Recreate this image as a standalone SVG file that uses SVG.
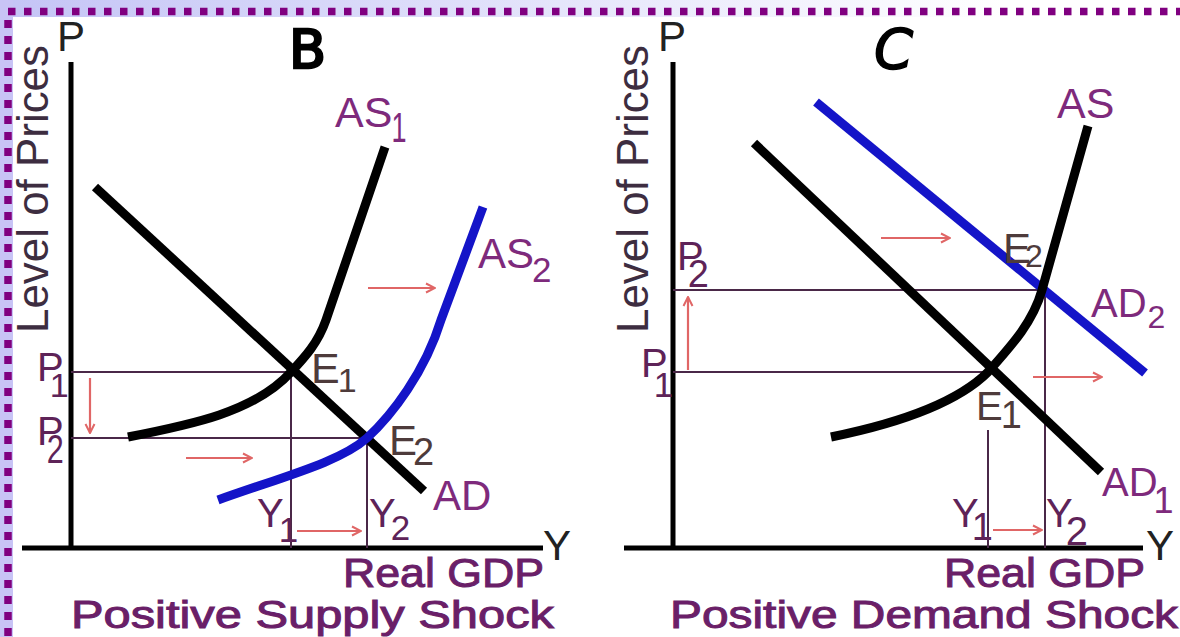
<svg xmlns="http://www.w3.org/2000/svg" width="1180" height="637" viewBox="0 0 1180 637">
<style>
.ax{stroke:#000;stroke-width:5;fill:none}
.curve{stroke:#000;stroke-width:9;fill:none;stroke-linecap:butt}
.blue{stroke:#1414c8;stroke-width:9;fill:none}
.guide{stroke:#4a2848;stroke-width:2;fill:none}
.arr{stroke:#e06666;stroke-width:2.2;fill:none;marker-end:url(#ah)}
text{font-family:"Liberation Sans",Arial,sans-serif}
.lab{fill:#7e2a7c}
.e{fill:#4e3b3b}
.p{fill:#5e2358}
.axl{fill:#222}
.vt{fill:#3d2d40;font-size:45px}
.bot{fill:#6a1f68;stroke:#6a1f68;stroke-width:1}
</style>
<defs>
<linearGradient id="band" x1="0" y1="0" x2="1" y2="0">
<stop offset="0" stop-color="#c4c4f6"/>
<stop offset="0.85" stop-color="#ffffff"/>
</linearGradient>
<marker id="ah" viewBox="0 0 12 12" refX="11" refY="6" markerWidth="12" markerHeight="12" markerUnits="userSpaceOnUse" orient="auto">
<path d="M2,1.5 L11,6 L2,10.5" fill="none" stroke="#e06666" stroke-width="2"/>
</marker>
</defs>
<rect width="1180" height="637" fill="#ffffff"/>
<g id="frame">
<rect x="0" y="0" width="1180" height="17" fill="url(#band)"/>
<rect x="0" y="0" width="13" height="637" fill="#c8c4f6"/>
<line x1="8" y1="11.5" x2="1180" y2="11.5" stroke="#800080" stroke-width="7.5" stroke-dasharray="7.5 8.5"/>
<line x1="8" y1="20" x2="8" y2="637" stroke="#800080" stroke-width="7.5" stroke-dasharray="8 8"/>
</g>

<g id="chartB">
<g id="B-axes">
<line class="ax" x1="71" y1="62" x2="71" y2="548"/>
<line class="ax" x1="22" y1="548" x2="543" y2="548"/>
</g>
<g id="B-guides">
<line class="guide" x1="71" y1="372" x2="291" y2="372"/>
<line class="guide" x1="291" y1="372" x2="291" y2="548"/>
<line class="guide" x1="71" y1="438" x2="367" y2="438"/>
<line class="guide" x1="367" y1="438" x2="367" y2="548"/>
</g>
<g id="B-AD"><line class="curve" x1="95" y1="187" x2="424" y2="491"/></g>
<g id="B-AS1"><path class="curve" d="M128,437 C190,425 255,412 291,372 C305,357 318,343 326,320 L385,147"/></g>
<g id="B-AS2"><path class="blue" d="M218,500 C285,476 340,462 367,438 C392,415 425,372 441,320 L483,207"/></g>
<g id="B-labels">
<text x="57" y="51" font-size="42" class="axl">P</text>
<text x="289" y="68" font-size="54" fill="#000" stroke="#000" stroke-width="2.5" style="font-family:'DejaVu Sans',sans-serif">B</text>
<text class="vt" transform="translate(48,333) rotate(-90)" textLength="288" lengthAdjust="spacingAndGlyphs">Level of Prices</text>
<text x="335" y="127" font-size="43" class="lab">AS<tspan dx="-1" dy="15" font-size="42" textLength="15" lengthAdjust="spacingAndGlyphs">1</tspan></text>
<text x="478" y="268" font-size="42" class="lab">AS<tspan dx="-2" dy="14" font-size="35">2</tspan></text>
<text x="433" y="510" font-size="42" class="lab">AD</text>
<text x="311" y="383" font-size="43" class="e">E<tspan dx="-2" dy="9" font-size="34">1</tspan></text>
<text x="389" y="455" font-size="42" class="e">E<tspan dx="-4" dy="10" font-size="38">2</tspan></text>
<text x="37" y="381" font-size="40" class="p">P<tspan dx="-14" dy="16" font-size="34">1</tspan></text>
<text x="37" y="445" font-size="40" class="p">P<tspan dx="-17" dy="18" font-size="40" textLength="17" lengthAdjust="spacingAndGlyphs">2</tspan></text>
<text x="257" y="527" font-size="40" class="p">Y<tspan dx="-5" dy="15" font-size="35">1</tspan></text>
<text x="369" y="527" font-size="40" class="p">Y<tspan dx="-5" dy="13" font-size="35">2</tspan></text>
<text x="543" y="560" font-size="42" class="axl">Y</text>
<text x="343" y="587" font-size="40" class="bot" textLength="201" lengthAdjust="spacingAndGlyphs">Real GDP</text>
<text x="71" y="628" font-size="38" class="bot" textLength="483" lengthAdjust="spacingAndGlyphs">Positive Supply Shock</text>
</g>
</g>

<g id="chartC">
<g id="C-axes">
<line class="ax" x1="673" y1="62" x2="673" y2="548"/>
<line class="ax" x1="624" y1="548" x2="1143" y2="548"/>
</g>
<g id="C-guides">
<line class="guide" x1="673" y1="290" x2="1042" y2="290"/>
<line class="guide" x1="1045" y1="290" x2="1045" y2="548"/>
<line class="guide" x1="673" y1="372" x2="988" y2="372"/>
<line class="guide" x1="988" y1="430" x2="988" y2="548"/>
</g>
<g id="C-AD1"><line class="curve" x1="754" y1="143" x2="1101" y2="472"/></g>
<g id="C-AD2"><line class="blue" x1="816" y1="102" x2="1145" y2="373"/></g>
<g id="C-AS"><path class="curve" d="M831,437 C890,425 955,405 988,372 C1012,345 1033,322 1042,290 L1088,126"/></g>
<g id="C-labels">
<text x="658" y="51" font-size="42" class="axl">P</text>
<text x="874" y="68" font-size="56" font-style="italic" fill="#000" stroke="#000" stroke-width="1.5" style="font-family:'DejaVu Sans',sans-serif">C</text>
<text class="vt" transform="translate(648,333) rotate(-90)" textLength="288" lengthAdjust="spacingAndGlyphs">Level of Prices</text>
<text x="1057" y="118" font-size="43" class="lab">AS</text>
<text x="1091" y="317" font-size="40" class="lab">AD<tspan dx="1" dy="11" font-size="32">2</tspan></text>
<text x="1102" y="496" font-size="40" class="lab">AD<tspan dx="-4" dy="17" font-size="36">1</tspan></text>
<text x="1003" y="263" font-size="42" class="e">E<tspan dx="-6" dy="4" font-size="32">2</tspan></text>
<text x="976" y="420" font-size="40" class="e">E<tspan dx="-2" dy="8" font-size="38">1</tspan></text>
<text x="641" y="377" font-size="40" class="p">P<tspan dx="-14" dy="20" font-size="35">1</tspan></text>
<text x="677" y="270" font-size="40" class="p">P<tspan dx="-16" dy="17" font-size="38">2</tspan></text>
<text x="952" y="527" font-size="40" class="p">Y<tspan dx="-7" dy="13" font-size="38">1</tspan></text>
<text x="1046" y="527" font-size="40" class="p">Y<tspan dx="-7" dy="18" font-size="40">2</tspan></text>
<text x="1146" y="560" font-size="42" class="axl">Y</text>
<text x="944" y="587" font-size="40" class="bot" textLength="201" lengthAdjust="spacingAndGlyphs">Real GDP</text>
<text x="670" y="628" font-size="38" class="bot" textLength="508" lengthAdjust="spacingAndGlyphs">Positive Demand Shock</text>
</g>
</g>

<g id="connectors">
<line class="arr" x1="368" y1="288" x2="435" y2="288"/>
<line class="arr" x1="186" y1="458" x2="252" y2="458"/>
<line class="arr" x1="90" y1="378" x2="90" y2="433"/>
<line class="arr" x1="297" y1="531" x2="361" y2="531"/>
<line class="arr" x1="881" y1="238" x2="950" y2="238"/>
<line class="arr" x1="688" y1="370" x2="688" y2="297"/>
<line class="arr" x1="1033" y1="377" x2="1102" y2="377"/>
<line class="arr" x1="993" y1="530" x2="1042" y2="530"/>
</g>
</svg>
